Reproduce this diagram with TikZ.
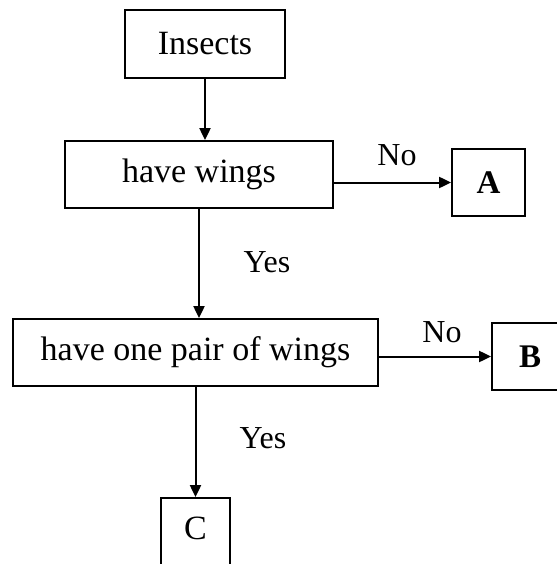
\documentclass[tikz,border=0pt]{standalone}
\usepackage{fontspec}
\setmainfont{Liberation Serif}
\usetikzlibrary{arrows.meta}
\begin{document}
\begin{tikzpicture}[x=1pt,y=-1pt,
  box/.style={draw,line width=1.8pt,rectangle,inner sep=0pt,minimum height=67pt,font=\fontsize{34}{40}\selectfont},
  conn/.style={line width=2pt,-{Triangle[length=12pt,width=11pt]}},
  lab/.style={font=\fontsize{32}{38}\selectfont,inner sep=0pt}]
\useasboundingbox[fill=white] (0,0) rectangle (556,564);
\node[box,minimum width=160pt,minimum height=68pt] (ins) at (205,44) {Insects};
\node[box,minimum width=268pt] (hw) at (199,174.5) {have wings};
\node[box,minimum width=73pt,font=\fontsize{33}{38}\selectfont\bfseries] (A) at (488.5,182.5) {A};
\node[box,minimum width=365pt] (hop) at (195.5,352.5) {have one pair of wings};
\node[box,minimum width=76pt,font=\fontsize{33}{38}\selectfont\bfseries] (B) at (530,356.5) {B};
\node[box,minimum width=69pt,minimum height=72pt,text depth=12pt] (C) at (195.5,534) {C};
\draw[conn] (ins.south) -- (ins.south |- hw.north);
\draw[conn] (A.west -| hw.east) -- (A.west);
\draw[conn] (hw.south) -- (hw.south |- hop.north);
\draw[conn] (hop.east |- B.west) -- (B.west);
\draw[conn] (hop.south) -- (C.north);
\node[lab] (no1) at (397,155) {No};
\node[lab] (yes1) at (267,262) {Yes};
\node[lab] (no2) at (442,332) {No};
\node[lab] (yes2) at (263,438) {Yes};
\end{tikzpicture}
\end{document}
